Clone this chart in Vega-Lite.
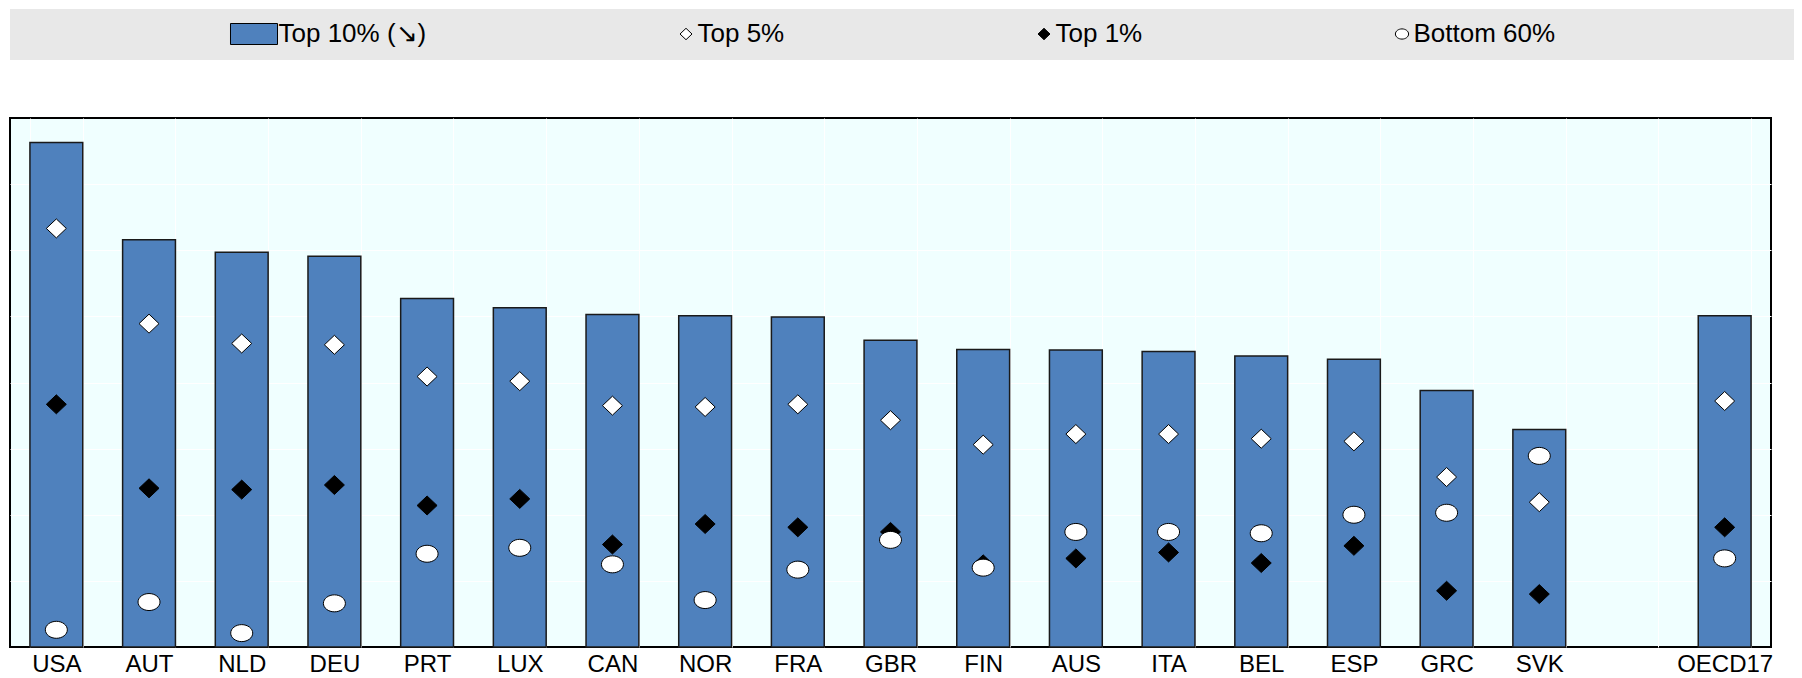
{
  "$schema": "https://vega.github.io/schema/vega-lite/v6.json",
  "padding": {"left": 9, "top": 9, "right": 0, "bottom": 0},
  "background": "white",
  "spacing": 57,
  "config": {"font": "Liberation Sans"},
  "vconcat": [
    {
      "width": 1784,
      "height": 51,
      "view": {"fill": "#E8E8E8", "stroke": null},
      "data": {"values": [{}]},
      "mark": {"type": "text", "text": ""}
    },
    {
      "width": 1761,
      "height": 529,
      "view": {"fill": "#F0FFFF", "stroke": "black", "strokeWidth": 2},
      "data": {
        "values": [
          {"country": "USA", "Top 10% (↘)": 76.3, "Top 5%": 63.3, "Top 1%": 36.7, "Bottom 60%": 2.6},
          {"country": "AUT", "Top 10% (↘)": 61.6, "Top 5%": 48.9, "Top 1%": 24.0, "Bottom 60%": 6.8},
          {"country": "NLD", "Top 10% (↘)": 59.7, "Top 5%": 45.9, "Top 1%": 23.8, "Bottom 60%": 2.1},
          {"country": "DEU", "Top 10% (↘)": 59.1, "Top 5%": 45.7, "Top 1%": 24.5, "Bottom 60%": 6.6},
          {"country": "PRT", "Top 10% (↘)": 52.7, "Top 5%": 40.9, "Top 1%": 21.4, "Bottom 60%": 14.1},
          {"country": "LUX", "Top 10% (↘)": 51.3, "Top 5%": 40.2, "Top 1%": 22.4, "Bottom 60%": 15.0},
          {"country": "CAN", "Top 10% (↘)": 50.3, "Top 5%": 36.5, "Top 1%": 15.5, "Bottom 60%": 12.5},
          {"country": "NOR", "Top 10% (↘)": 50.1, "Top 5%": 36.3, "Top 1%": 18.6, "Bottom 60%": 7.1},
          {"country": "FRA", "Top 10% (↘)": 49.9, "Top 5%": 36.7, "Top 1%": 18.1, "Bottom 60%": 11.7},
          {"country": "GBR", "Top 10% (↘)": 46.4, "Top 5%": 34.3, "Top 1%": 17.4, "Bottom 60%": 16.2},
          {"country": "FIN", "Top 10% (↘)": 45.0, "Top 5%": 30.6, "Top 1%": 12.5, "Bottom 60%": 12.0},
          {"country": "AUS", "Top 10% (↘)": 44.9, "Top 5%": 32.2, "Top 1%": 13.4, "Bottom 60%": 17.4},
          {"country": "ITA", "Top 10% (↘)": 44.7, "Top 5%": 32.2, "Top 1%": 14.3, "Bottom 60%": 17.4},
          {"country": "BEL", "Top 10% (↘)": 44.0, "Top 5%": 31.5, "Top 1%": 12.7, "Bottom 60%": 17.2},
          {"country": "ESP", "Top 10% (↘)": 43.5, "Top 5%": 31.1, "Top 1%": 15.3, "Bottom 60%": 20.0},
          {"country": "GRC", "Top 10% (↘)": 38.8, "Top 5%": 25.7, "Top 1%": 8.5, "Bottom 60%": 20.3},
          {"country": "SVK", "Top 10% (↘)": 32.9, "Top 5%": 21.9, "Top 1%": 8.0, "Bottom 60%": 28.9},
          {"country": "OECD17", "Top 10% (↘)": 50.1, "Top 5%": 37.2, "Top 1%": 18.1, "Bottom 60%": 13.4}
        ]
      },
      "encoding": {
        "x": {
          "field": "country",
          "type": "nominal",
          "sort": null,
          "title": null,
          "scale": {
            "domain": ["USA", "AUT", "NLD", "DEU", "PRT", "LUX", "CAN", "NOR", "FRA", "GBR", "FIN", "AUS", "ITA", "BEL", "ESP", "GRC", "SVK", " ", "OECD17"],
            "paddingInner": 0.43,
            "paddingOuter": 0.215
          },
          "axis": {
            "labelFont": "Liberation Sans",
            "labelFontSize": 24,
            "labelColor": "black",
            "labelAngle": 0,
            "labelPadding": 5,
            "ticks": false,
            "domain": false,
            "grid": true,
            "gridColor": "white",
            "gridWidth": 1,
            "tickBand": "extent"
          }
        }
      },
      "layer": [
        {
          "mark": {"type": "bar", "fill": "#4F81BD", "stroke": "#1A1A1A", "strokeWidth": 1.5},
          "encoding": {
            "y": {
              "field": "Top 10% (↘)",
              "type": "quantitative",
              "title": null,
              "scale": {"domain": [0, 80], "nice": false},
              "axis": {
                "labels": false,
                "ticks": false,
                "domain": false,
                "grid": true,
                "gridColor": "white",
                "gridWidth": 1,
                "values": [10, 20, 30, 40, 50, 60, 70]
              }
            }
          }
        },
        {
          "transform": [{"fold": ["Top 5%", "Top 1%", "Bottom 60%"], "as": ["series", "value"]}],
          "mark": {"type": "point", "filled": true, "size": 100, "strokeWidth": 1, "opacity": 1},
          "encoding": {
            "y": {"field": "value", "type": "quantitative"},
            "stroke": {"value": "black"},
            "shape": {
              "field": "series",
              "type": "nominal",
              "scale": {
                "domain": ["Top 10% (↘)", "Top 5%", "Top 1%", "Bottom 60%"],
                "range": [
                  "M-12.17,-3.5H3.5V3.5H-12.17Z",
                  "M0,-1.9L2,0L0,1.9L-2,0Z",
                  "M0,-1.9L2,0L0,1.9L-2,0Z",
                  "M-2.2,0A2.2,1.7 0 1,0 2.2,0A2.2,1.7 0 1,0 -2.2,0Z"
                ]
              },
              "legend": {
                "title": null,
                "orient": "none",
                "legendX": 244,
                "legendY": 12,
                "direction": "horizontal",
                "columnPadding": 246,
                "padding": 0,
                "labelFont": "Liberation Sans",
                "labelFontSize": 26,
                "labelColor": "black",
                "labelOffset": -1.5,
                "symbolSize": 36,
                "symbolStrokeWidth": 1,
                "encoding": {"symbols": {"stroke": {"value": "black"}, "strokeWidth": {"value": 1}}}
              }
            },
            "fill": {
              "field": "series",
              "type": "nominal",
              "scale": {
                "domain": ["Top 10% (↘)", "Top 5%", "Top 1%", "Bottom 60%"],
                "range": ["#4F81BD", "white", "black", "white"]
              },
              "legend": {
                "title": null,
                "orient": "none",
                "legendX": 244,
                "legendY": 12,
                "direction": "horizontal",
                "columnPadding": 246,
                "padding": 0,
                "labelFont": "Liberation Sans",
                "labelFontSize": 26,
                "labelColor": "black",
                "labelOffset": -1.5,
                "symbolSize": 36,
                "symbolStrokeWidth": 1,
                "encoding": {"symbols": {"stroke": {"value": "black"}, "strokeWidth": {"value": 1}}}
              }
            }
          }
        }
      ]
    }
  ]
}
